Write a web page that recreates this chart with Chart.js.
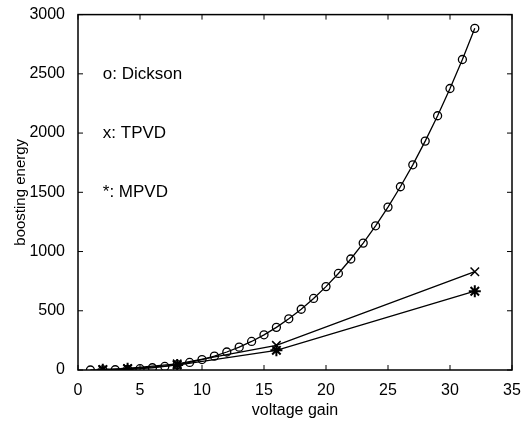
<!DOCTYPE html>
<html>
<head>
<meta charset="utf-8">
<script src="https://cdn.jsdelivr.net/npm/chart.js@4"></script>
<style>
  body { margin: 0; background: #fff; }
</style>
</head>
<body>
<canvas id="myChart" width="532" height="424"></canvas>
<script>
const dicksonGain = [1, 2, 3, 4, 5, 6, 7, 8, 9, 10, 11, 12, 13, 14, 15, 16, 17, 18, 19, 20, 21, 22, 23, 24, 25, 26, 27, 28, 29, 30, 31, 32];
const dicksonEnergy = [0, 1, 2, 6, 11, 19, 30, 45, 64, 88, 117, 152, 193, 241, 297, 360, 432, 513, 604, 704, 815, 937, 1071, 1217, 1375, 1547, 1732, 1932, 2146, 2376, 2621, 2884];
const tpvdGain = [2, 4, 8, 16, 32];
const tpvdEnergy = [3, 13, 52, 208, 830];
const mpvdGain = [2, 4, 8, 16, 32];
const mpvdEnergy = [3, 10, 42, 166, 665];
const notes = ["o: Dickson", "x: TPVD", "*: MPVD"];
const noteY = [2500, 2000, 1500];

const font = "'Liberation Sans', Arial, Helvetica, sans-serif";

function toPoints(xs, ys) {
    return xs.map((x, i) => ({x: x, y: ys[i]}));
}

const boxPlugin = {
    id: 'box',
    afterDraw(chart) {
        const ctx = chart.ctx;
        const a = chart.chartArea;
        const xs = chart.scales.x;
        const ys = chart.scales.y;
        ctx.save();
        ctx.strokeStyle = '#000';
        ctx.lineWidth = 1.5;
        ctx.strokeRect(a.left, a.top, a.right - a.left, a.bottom - a.top);
        ctx.lineWidth = 1;
        ctx.beginPath();
        xs.ticks.forEach(t => {
            const px = xs.getPixelForValue(t.value);
            ctx.moveTo(px, a.bottom); ctx.lineTo(px, a.bottom - 5);
            ctx.moveTo(px, a.top); ctx.lineTo(px, a.top + 5);
        });
        ys.ticks.forEach(t => {
            const py = ys.getPixelForValue(t.value);
            ctx.moveTo(a.left, py); ctx.lineTo(a.left + 5, py);
            ctx.moveTo(a.right, py); ctx.lineTo(a.right - 5, py);
        });
        ctx.stroke();
        ctx.fillStyle = '#000';
        ctx.font = '17px ' + font;
        ctx.textBaseline = 'middle';
        notes.forEach((txt, i) => {
            ctx.fillText(txt, xs.getPixelForValue(2), ys.getPixelForValue(noteY[i]));
        });
        ctx.restore();
    }
};

const myChart = new Chart(document.getElementById('myChart').getContext('2d'), {
    type: 'line',
    data: {
        datasets: [
            {
                label: 'Dickson',
                data: toPoints(dicksonGain, dicksonEnergy),
                borderColor: '#000',
                borderWidth: 1.3,
                pointStyle: 'circle',
                pointRadius: 4,
                pointBorderWidth: 1.3,
                pointBorderColor: '#000',
                pointBackgroundColor: 'rgba(0,0,0,0)',
                tension: 0
            },
            {
                label: 'TPVD',
                data: toPoints(tpvdGain, tpvdEnergy),
                borderColor: '#000',
                borderWidth: 1.3,
                pointStyle: 'crossRot',
                pointRadius: 6,
                pointBorderWidth: 1.5,
                pointBorderColor: '#000',
                tension: 0
            },
            {
                label: 'MPVD',
                data: toPoints(mpvdGain, mpvdEnergy),
                borderColor: '#000',
                borderWidth: 1.3,
                pointStyle: 'star',
                pointRadius: 6,
                pointBorderWidth: 2,
                pointBorderColor: '#000',
                tension: 0
            }
        ]
    },
    options: {
        responsive: false,
        animation: false,
        layout: {padding: {left: 12, right: 20, top: 10, bottom: 4}},
        plugins: {legend: {display: false}, tooltip: {enabled: false}},
        scales: {
            x: {
                type: 'linear',
                min: 0, max: 35,
                ticks: {stepSize: 5, color: '#000', font: {family: font, size: 16}, padding: 3, maxRotation: 0, callback: (v) => String(v)},
                grid: {display: false},
                border: {display: false},
                title: {display: true, text: 'voltage gain', color: '#000', font: {family: font, size: 16}, padding: {top: 0, bottom: 0}},
                afterFit: (s) => { s.height = 50; }
            },
            y: {
                min: 0, max: 3000,
                ticks: {stepSize: 500, color: '#000', font: {family: font, size: 16}, padding: 5, callback: (v) => String(v)},
                grid: {display: false},
                border: {display: false},
                title: {display: true, text: 'boosting energy', color: '#000', font: {family: font, size: 15}, padding: {top: 0, bottom: 4}},
                afterFit: (s) => { s.width = 66; }
            }
        }
    },
    plugins: [boxPlugin]
});
</script>
</body>
</html>
